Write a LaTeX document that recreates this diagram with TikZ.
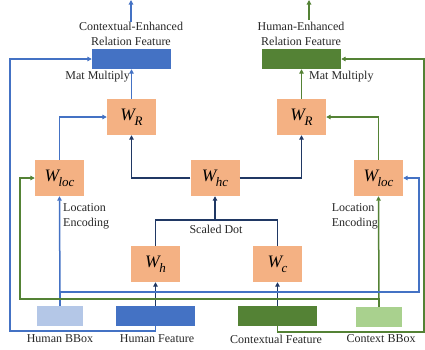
\documentclass[tikz,border=0pt]{standalone}
\usepackage{fontspec}
\setmainfont{Liberation Serif}
\usetikzlibrary{arrows.meta}
\definecolor{salmon}{HTML}{F4B183}
\definecolor{myblue}{HTML}{4472C4}
\definecolor{mygreen}{HTML}{548235}
\definecolor{lblue}{HTML}{B4C7E7}
\definecolor{lgreen}{HTML}{A9D18E}
\definecolor{navy}{HTML}{203864}
\newcommand\wlab[1]{\fontsize{17.5}{17.5}\selectfont\itshape W\kern-0.5pt\raisebox{-5pt}{\fontsize{13}{13}\selectfont #1}}
\tikzset{
  wbox/.style={fill=salmon, minimum width=49pt, minimum height=36pt, inner sep=0pt},
  fbox/.style={minimum width=79pt, minimum height=20pt, inner sep=0pt},
  bbox/.style={minimum width=46pt, minimum height=20pt, inner sep=0pt},
  lab/.style={font=\fontsize{12}{15}\selectfont, inner sep=0pt, text=black!85},
  tip/.style={-{Triangle[length=4.5pt,width=4.5pt]}},
  bl/.style={draw=myblue, line width=1.5pt},
  gr/.style={draw=mygreen, line width=1.5pt},
  nv/.style={draw=navy, line width=1.7pt},
}
\begin{document}
\begin{tikzpicture}[x=1pt,y=-1pt]
\useasboundingbox (0,0) rectangle (425,349);
% top feature boxes
\node[fbox, fill=myblue] (ce) at (131.5,59) {};
\node[fbox, fill=mygreen] (he) at (301.5,59) {};
\node[lab, align=center] (celab) at (131,33.5) {Contextual-Enhanced\\Relation Feature};
\node[lab, align=center] (helab) at (301,33.5) {Human-Enhanced\\Relation Feature};
\coordinate (cetop) at (131,0);
\coordinate (hebot) at (309,20);
\coordinate (hetop) at (309,0);
\draw[bl,tip] (celab.north) -- (cetop);
\draw[gr,tip] (hebot) -- (hetop);
% W boxes
\node[wbox] (wr1) at (131.5,117) {\wlab{R}};
\node[wbox] (wr2) at (301.5,117) {\wlab{R}};
\node[wbox] (wl1) at (59.5,178) {\wlab{loc}};
\node[wbox] (wl2) at (378.5,178) {\wlab{loc}};
\node[wbox] (whc) at (215,178) {\wlab{hc}};
\node[wbox] (wh) at (155.5,264) {\wlab{h}};
\node[wbox] (wc) at (277.5,264) {\wlab{c}};
% bottom boxes
\node[bbox, fill=lblue] (hb) at (60,316) {};
\node[fbox, fill=myblue] (hf) at (155.5,316) {};
\node[fbox, fill=mygreen] (cf) at (277.5,316) {};
\node[bbox, fill=lgreen] (cb) at (379,317) {};
\node[lab] (hbl) at (60,339) {Human BBox};
\node[lab] (hfl) at (157,339) {Human Feature};
\node[lab] (cfl) at (276,339) {Contextual Feature};
\node[lab] (cbl) at (381,339) {Context BBox};
% other labels
\node[lab, anchor=east] (mm1) at (130,77) {Mat Multiply};
\node[lab, anchor=west] (mm2) at (309,77) {Mat Multiply};
\node[lab, align=left, anchor=west] (le1) at (63,216.5) {Location\\Encoding};
\node[lab, align=left, anchor=east] (le2) at (378,216.5) {Location\\Encoding};
\node[lab] (sd) at (216,229) {Scaled Dot};
% connectors
\coordinate (sdc) at (215,220);
\coordinate (bl1) at (10,331);
\coordinate (bl2) at (10,59);
\coordinate (gr1) at (424,332);
\coordinate (gr2) at (424,59);
\coordinate (bh) at (419,292);
\coordinate (gh) at (20,299);
\draw[nv,tip] (hf.north) -- (wh.south);
\draw[nv,tip] (cf.north) -- (wc.south);
\draw[nv] (wh.north) |- (sdc) -| (wc.north);
\draw[nv,tip] (sdc) -- (whc.south);
\draw[nv,tip] (whc.west) -| (wr1.south);
\draw[nv,tip] (whc.east) -| (wr2.south);
\draw[bl,tip] (wr1.north) -- (ce.south);
\draw[gr,tip] (wr2.north) -- (he.south);
\draw[bl,tip] (wl1.north) |- (wr1.west);
\draw[gr,tip] (wl2.north) |- (wr2.east);
\draw[bl,tip] (hb.north) -- (wl1.south);
\draw[gr,tip] (cb.north) -- (wl2.south);
\draw[bl,tip] (hb.north) |- (bh) |- (wl2.east);
\draw[gr,tip] (cb.north) |- (gh) |- (wl1.west);
\draw[bl,tip] (hf.south) |- (bl1) -- (bl2) -- (ce.west);
\draw[gr,tip] (cf.south) |- (gr1) -- (gr2) -- (he.east);
\end{tikzpicture}
\end{document}
